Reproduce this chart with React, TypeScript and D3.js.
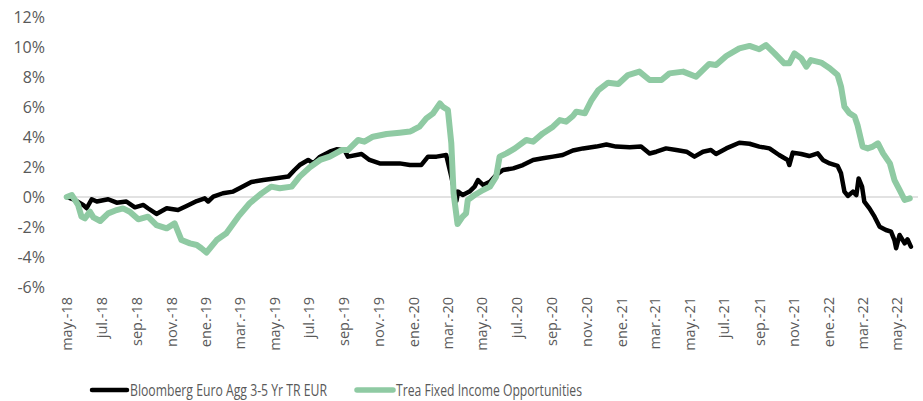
import React from "react";
import * as d3 from "d3";

const bbgDates = [
  "2018-05-01","2018-05-15","2018-05-30","2018-06-05","2018-06-14","2018-06-23","2018-07-13","2018-07-28",
  "2018-08-14","2018-08-29","2018-09-13","2018-09-21","2018-10-06","2018-10-24","2018-11-13","2018-11-28",
  "2018-12-16","2018-12-30","2019-01-05","2019-01-14","2019-01-31","2019-02-18","2019-03-02","2019-03-22",
  "2019-04-12","2019-05-05","2019-05-26","2019-06-06","2019-06-15","2019-06-30","2019-07-09","2019-07-21",
  "2019-08-07","2019-08-19","2019-09-02","2019-09-08","2019-10-02","2019-10-16","2019-11-03","2019-11-21",
  "2019-12-08","2019-12-26","2020-01-15","2020-01-27","2020-02-11","2020-02-28","2020-03-08","2020-03-17",
  "2020-03-20","2020-03-28","2020-04-09","2020-04-18","2020-04-24","2020-05-03","2020-05-15","2020-05-26",
  "2020-06-07","2020-06-25","2020-07-12","2020-07-30","2020-08-16","2020-09-03","2020-09-20","2020-10-08",
  "2020-10-26","2020-11-18","2020-12-06","2020-12-23","2021-01-16","2021-02-05","2021-02-20","2021-03-04",
  "2021-03-21","2021-04-08","2021-04-26","2021-05-10","2021-05-25","2021-06-08","2021-06-17","2021-07-05",
  "2021-07-28","2021-08-15","2021-09-01","2021-09-19","2021-10-06","2021-10-21","2021-10-24","2021-10-30",
  "2021-11-14","2021-11-28","2021-12-13","2021-12-22","2022-01-03","2022-01-17","2022-01-23","2022-01-29",
  "2022-02-04","2022-02-13","2022-02-19","2022-02-23","2022-03-01","2022-03-05","2022-03-14","2022-03-23",
  "2022-04-01","2022-04-12","2022-04-21","2022-04-27","2022-04-30","2022-05-06","2022-05-15","2022-05-20",
  "2022-05-26"
];
const bbgValues = [
  0.0,-0.2,-0.53,-0.75,-0.15,-0.3,-0.15,-0.38,
  -0.3,-0.69,-0.53,-0.75,-1.13,-0.75,-0.87,-0.6,
  -0.27,-0.09,-0.3,0.02,0.25,0.36,0.6,1.0,
  1.13,1.25,1.36,1.8,2.13,2.47,2.24,2.69,
  3.02,3.18,3.13,2.69,2.87,2.47,2.24,2.24,
  2.24,2.13,2.13,2.69,2.69,2.8,1.36,-0.25,
  0.36,0.13,0.36,0.69,1.13,0.8,1.02,1.47,
  1.8,1.91,2.13,2.47,2.58,2.69,2.8,3.1,
  3.24,3.36,3.5,3.36,3.31,3.36,2.9,3.02,
  3.24,3.13,3.02,2.69,3.02,3.13,2.87,3.24,
  3.62,3.55,3.36,3.24,2.8,2.47,2.13,2.96,
  2.87,2.73,2.91,2.47,2.24,2.07,1.58,0.36,
  0.07,0.36,0.13,1.24,0.69,-0.31,-0.76,-1.31,
  -1.98,-2.2,-2.31,-2.87,-3.42,-2.53,-3.09,-2.82,
  -3.31
];

const treaDates = [
  "2018-05-01","2018-05-10","2018-05-21","2018-05-27","2018-06-02","2018-06-11","2018-06-17","2018-06-29",
  "2018-07-13","2018-07-28","2018-08-08","2018-08-20","2018-09-04","2018-09-21","2018-10-06","2018-10-24",
  "2018-11-07","2018-11-19","2018-12-04","2018-12-16","2018-12-24","2019-01-02","2019-01-20","2019-02-06",
  "2019-02-27","2019-03-19","2019-04-09","2019-04-26","2019-05-11","2019-06-01","2019-06-15","2019-07-03",
  "2019-07-21","2019-08-07","2019-08-28","2019-09-08","2019-09-26","2019-10-07","2019-10-22","2019-11-15",
  "2019-12-08","2019-12-26","2020-01-01","2020-01-12","2020-01-24","2020-02-05","2020-02-17","2020-02-22",
  "2020-03-02","2020-03-08","2020-03-12","2020-03-19","2020-03-28","2020-04-03","2020-04-06","2020-04-18",
  "2020-05-03","2020-05-15","2020-05-26","2020-06-01","2020-06-13","2020-06-28","2020-07-18","2020-07-30",
  "2020-08-16","2020-09-03","2020-09-15","2020-09-26","2020-10-08","2020-10-14","2020-10-29","2020-11-10",
  "2020-11-22","2020-12-09","2020-12-27","2021-01-13","2021-02-02","2021-02-20","2021-03-13","2021-03-27",
  "2021-04-20","2021-05-13","2021-06-05","2021-06-17","2021-07-05","2021-07-28","2021-08-15","2021-09-01",
  "2021-09-13","2021-09-28","2021-10-15","2021-10-24","2021-11-02","2021-11-14","2021-11-23","2021-12-01",
  "2021-12-19","2022-01-03","2022-01-17","2022-01-23","2022-01-29","2022-02-07","2022-02-16","2022-02-21",
  "2022-03-02","2022-03-11","2022-03-20","2022-03-29","2022-04-07","2022-04-19","2022-04-27","2022-05-06",
  "2022-05-15","2022-05-24"
];
const treaValues = [
  0.0,0.13,-0.53,-1.31,-1.42,-0.98,-1.36,-1.6,
  -1.09,-0.87,-0.76,-0.98,-1.49,-1.31,-1.87,-2.09,
  -1.76,-2.87,-3.09,-3.2,-3.42,-3.7,-2.87,-2.42,
  -1.31,-0.42,0.24,0.69,0.58,0.69,1.36,1.98,
  2.47,2.69,3.13,3.13,3.8,3.69,4.02,4.2,
  4.29,4.36,4.47,4.69,5.24,5.58,6.24,6.02,
  5.8,3.58,0.24,-1.8,-1.31,-1.09,-0.2,0.13,
  0.47,0.69,1.36,2.69,2.91,3.24,3.8,3.69,
  4.24,4.69,5.13,5.02,5.4,5.69,5.58,6.47,
  7.13,7.62,7.53,8.13,8.36,7.8,7.8,8.24,
  8.36,8.02,8.87,8.8,9.4,9.91,10.07,9.85,
  10.13,9.58,8.91,8.91,9.58,9.24,8.69,9.13,
  8.96,8.58,8.13,7.36,6.02,5.58,5.36,4.8,
  3.36,3.24,3.36,3.58,2.91,2.24,1.13,0.47,
  -0.2,-0.09
];

const xTickLabels = [
  "may.-18","jul.-18","sep.-18","nov.-18","ene.-19","mar.-19","may.-19","jul.-19","sep.-19","nov.-19",
  "ene.-20","mar.-20","may.-20","jul.-20","sep.-20","nov.-20","ene.-21","mar.-21","may.-21","jul.-21",
  "sep.-21","nov.-21","ene.-22","mar.-22","may.-22"
];
const yTicks = [-6, -4, -2, 0, 2, 4, 6, 8, 10, 12];
const seriesNames = ["Bloomberg Euro Agg 3-5 Yr TR EUR", "Trea Fixed Income Opportunities"];

const BLACK = "#000000";
const GREEN = "#8fcaa3";
const TEXT = "#595959";
const FONT = "'Open Sans', sans-serif";

export default function App() {
  const parse = d3.timeParse("%Y-%m-%d");
  const x = d3
    .scaleTime()
    .domain([new Date(2018, 4, 1), new Date(2022, 4, 1)])
    .range([66.7, 896.7]);
  const y = d3.scaleLinear().domain([-6, 12]).range([287, 17]);

  const bbg = bbgDates.map((d, i) => ({ date: parse(d) as Date, v: bbgValues[i] }));
  const trea = treaDates.map((d, i) => ({ date: parse(d) as Date, v: treaValues[i] }));

  const line = d3
    .line<{ date: Date; v: number }>()
    .x((d) => x(d.date))
    .y((d) => y(d.v));

  const tickDates = xTickLabels.map((_, i) => new Date(2018, 4 + 2 * i, 1));

  return (
    <svg
      width={923}
      height={401}
      style={{ position: "absolute", left: 0, top: 0, background: "#fff" }}
      fontFamily={FONT}
    >
      <line x1={65} x2={918} y1={y(0)} y2={y(0)} stroke="#d9d9d9" strokeWidth={1.5} />
      {yTicks.map((t) => (
        <text
          key={t}
          x={45}
          y={y(t)}
          textAnchor="end"
          dominantBaseline="central"
          fontSize={16}
          fill={TEXT}
        >
          {t + "%"}
        </text>
      ))}
      {xTickLabels.map((lab, i) => {
        const tx = x(tickDates[i]);
        return (
          <text
            key={lab}
            transform={`translate(${tx},297) rotate(-90)`}
            textAnchor="end"
            dominantBaseline="central"
            fontSize={14.5}
            fill={TEXT}
          >
            {lab}
          </text>
        );
      })}
      <path d={line(bbg) || ""} fill="none" stroke={BLACK} strokeWidth={4.5} strokeLinejoin="round" strokeLinecap="round" />
      <path d={line(trea) || ""} fill="none" stroke={GREEN} strokeWidth={6} strokeLinejoin="round" strokeLinecap="round" />

      <line x1={92} x2={127} y1={390} y2={390} stroke={BLACK} strokeWidth={4.5} strokeLinecap="round" />
      <text x={130} y={389} dominantBaseline="central" fontSize={17} fill={TEXT} textLength={197} lengthAdjust="spacingAndGlyphs">
        {seriesNames[0]}
      </text>
      <line x1={357} x2={393} y1={390} y2={390} stroke={GREEN} strokeWidth={5.5} strokeLinecap="round" />
      <text x={396} y={389} dominantBaseline="central" fontSize={17} fill={TEXT} textLength={186} lengthAdjust="spacingAndGlyphs">
        {seriesNames[1]}
      </text>
    </svg>
  );
}
